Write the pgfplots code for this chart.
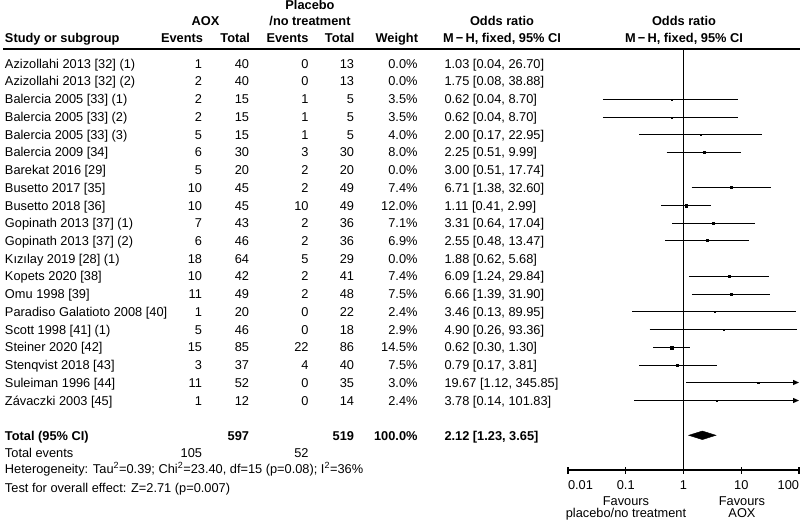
\documentclass[border=0pt]{standalone}
\usepackage{pgfplots}
\pgfplotsset{compat=1.18}
\usepackage{fontspec}
\setmainfont{Liberation Sans}
\usetikzlibrary{arrows.meta}

% text row: baseline(image y), name, e1, t1, e2, t2, weight, OR text
\newcommand{\rowtxt}[8]{%
  \node[anchor=base west] at (5,523-#1) {#2};
  \node[anchor=base east] at (202,523-#1) {#3};
  \node[anchor=base east] at (249,523-#1) {#4};
  \node[anchor=base east] at (308.5,523-#1) {#5};
  \node[anchor=base east] at (354,523-#1) {#6};
  \node[anchor=base east] at (417.5,523-#1) {#7};
  \node[anchor=base west] at (444.5,523-#1) {#8};
}

\begin{document}
\fontsize{12.8pt}{15pt}\selectfont
\begin{tikzpicture}[every node/.style={inner sep=0pt,outer sep=0pt,font=\fontsize{12.8pt}{15pt}\selectfont}]
\begin{scope}[x=1pt,y=1pt]

% ---------- headers ----------
\node[anchor=base] at (310,523-10) {\bfseries Placebo};
\node[anchor=base] at (205.5,523-26) {\bfseries AOX};
\node[anchor=base] at (310,523-26) {\bfseries /no treatment};
\node[anchor=base] at (502,523-26) {\bfseries Odds ratio};
\node[anchor=base] at (684,523-26) {\bfseries Odds ratio};
\node[anchor=base west] at (5,523-42.7) {\bfseries Study or subgroup};
\node[anchor=base east] at (203,523-42.7) {\bfseries Events};
\node[anchor=base east] at (250,523-42.7) {\bfseries Total};
\node[anchor=base east] at (308.5,523-42.7) {\bfseries Events};
\node[anchor=base east] at (354.5,523-42.7) {\bfseries Total};
\node[anchor=base east] at (418,523-42.7) {\bfseries Weight};
\node[anchor=base] at (502,523-42.7) {\bfseries M\,−\,H, fixed, 95\% CI};
\node[anchor=base] at (684,523-42.7) {\bfseries M\,−\,H, fixed, 95\% CI};
\draw[line width=1.5pt] (3,474) -- (800,474);

% ---------- study rows ----------
\rowtxt{68.3}{Azizollahi 2013 [32] (1)}{1}{40}{0}{13}{0.0\%}{1.03 [0.04, 26.70]}
\rowtxt{86.0}{Azizollahi 2013 [32] (2)}{2}{40}{0}{13}{0.0\%}{1.75 [0.08, 38.88]}
\rowtxt{103.7}{Balercia 2005 [33] (1)}{2}{15}{1}{5}{3.5\%}{0.62 [0.04, 8.70]}
\rowtxt{121.5}{Balercia 2005 [33] (2)}{2}{15}{1}{5}{3.5\%}{0.62 [0.04, 8.70]}
\rowtxt{139.2}{Balercia 2005 [33] (3)}{5}{15}{1}{5}{4.0\%}{2.00 [0.17, 22.95]}
\rowtxt{156.9}{Balercia 2009 [34]}{6}{30}{3}{30}{8.0\%}{2.25 [0.51, 9.99]}
\rowtxt{174.6}{Barekat 2016 [29]}{5}{20}{2}{20}{0.0\%}{3.00 [0.51, 17.74]}
\rowtxt{192.3}{Busetto 2017 [35]}{10}{45}{2}{49}{7.4\%}{6.71 [1.38, 32.60]}
\rowtxt{210.1}{Busetto 2018 [36]}{10}{45}{10}{49}{12.0\%}{1.11 [0.41, 2.99]}
\rowtxt{227.8}{Gopinath 2013 [37] (1)}{7}{43}{2}{36}{7.1\%}{3.31 [0.64, 17.04]}
\rowtxt{245.5}{Gopinath 2013 [37] (2)}{6}{46}{2}{36}{6.9\%}{2.55 [0.48, 13.47]}
\rowtxt{263.2}{Kızılay 2019 [28] (1)}{18}{64}{5}{29}{0.0\%}{1.88 [0.62, 5.68]}
\rowtxt{280.9}{Kopets 2020 [38]}{10}{42}{2}{41}{7.4\%}{6.09 [1.24, 29.84]}
\rowtxt{298.7}{Omu 1998 [39]}{11}{49}{2}{48}{7.5\%}{6.66 [1.39, 31.90]}
\rowtxt{316.4}{Paradiso Galatioto 2008 [40]}{1}{20}{0}{22}{2.4\%}{3.46 [0.13, 89.95]}
\rowtxt{334.1}{Scott 1998 [41] (1)}{5}{46}{0}{18}{2.9\%}{4.90 [0.26, 93.36]}
\rowtxt{351.8}{Steiner 2020 [42]}{15}{85}{22}{86}{14.5\%}{0.62 [0.30, 1.30]}
\rowtxt{369.5}{Stenqvist 2018 [43]}{3}{37}{4}{40}{7.5\%}{0.79 [0.17, 3.81]}
\rowtxt{387.3}{Suleiman 1996 [44]}{11}{52}{0}{35}{3.0\%}{19.67 [1.12, 345.85]}
\rowtxt{405.0}{Závaczki 2003 [45]}{1}{12}{0}{14}{2.4\%}{3.78 [0.14, 101.83]}

% ---------- totals ----------
\node[anchor=base west] at (5,523-440.7) {\bfseries Total (95\% CI)};
\node[anchor=base east] at (249,523-440.7) {\bfseries 597};
\node[anchor=base east] at (354,523-440.7) {\bfseries 519};
\node[anchor=base east] at (417.5,523-440.7) {\bfseries 100.0\%};
\node[anchor=base west] at (444.5,523-440.7) {\bfseries 2.12 [1.23, 3.65]};
\node[anchor=base west] at (5,523-457.3) {Total events};
\node[anchor=base east] at (202,523-457.3) {105};
\node[anchor=base east] at (308.5,523-457.3) {52};
\node[anchor=base west] at (5,523-473.3) {Heterogeneity: Tau\textsuperscript{2}=0.39; Chi\textsuperscript{2}=23.40, df=15 (p=0.08); I\textsuperscript{2}=36\%};
\node[anchor=base west] at (5,523-492.7) {Test for overall effect: Z=2.71 (p=0.007)};

% ---------- footer labels ----------
\node[anchor=base] at (626,523-505) {Favours};
\node[anchor=base] at (626,523-517.5) {placebo/no treatment};
\node[anchor=base] at (742,523-505) {Favours};
\node[anchor=base] at (742,523-517.5) {AOX};
\end{scope}

% ---------- forest plot ----------
\begin{axis}[at={(568pt,53pt)}, anchor=south west, scale only axis,
  width=231pt, height=420pt,
  xmode=log, log basis x=10, xmin=0.01, xmax=100, ymin=53, ymax=473,
  axis x line*=bottom, axis y line=none,
  xtick={0.01,0.1,1,10,100},
  xticklabels={\makebox[0pt][l]{0.01},0.1,1,10,\makebox[0pt][r]{100}},
  xminorticks=false, tick align=center, major tick length=7pt,
  x axis line style={line width=1.2pt},
  every tick/.style={black, line width=1.2pt},
  xticklabel style={anchor=base, yshift=-15.5pt, inner sep=0pt, font=\fontsize{12.8pt}{15pt}\selectfont},
  clip=false,
  ci/.style={black, line width=1.2pt, no markers},
  sq/.style={only marks, mark=square*, black, mark options={solid}},
  arr/.style={-{Triangle[length=6pt,width=5pt]}}]
\addplot[black, line width=1.2pt, no markers] coordinates {(1,53) (1,473)};
% CI lines
\addplot[ci] coordinates {(0.04,423.5) (8.70,423.5)};
\addplot[ci] coordinates {(0.04,405.5) (8.70,405.5)};
\addplot[ci] coordinates {(0.17,388.5) (22.95,388.5)};
\addplot[ci] coordinates {(0.51,370.5) (9.99,370.5)};
\addplot[ci] coordinates {(1.38,335.5) (32.60,335.5)};
\addplot[ci] coordinates {(0.41,317.5) (2.99,317.5)};
\addplot[ci] coordinates {(0.64,299.5) (17.04,299.5)};
\addplot[ci] coordinates {(0.48,282.5) (13.47,282.5)};
\addplot[ci] coordinates {(1.24,246.5) (29.84,246.5)};
\addplot[ci] coordinates {(1.39,228.5) (31.90,228.5)};
\addplot[ci] coordinates {(0.13,211.5) (89.95,211.5)};
\addplot[ci] coordinates {(0.26,193.5) (93.36,193.5)};
\addplot[ci] coordinates {(0.30,175.5) (1.30,175.5)};
\addplot[ci] coordinates {(0.17,157.5) (3.81,157.5)};
\addplot[ci, arr] coordinates {(1.12,140.5) (100,140.5)};
\addplot[ci, arr] coordinates {(0.14,122.5) (100,122.5)};
% point estimates
\addplot[sq, mark size=0.7] coordinates {(0.62,423.5)};
\addplot[sq, mark size=0.7] coordinates {(0.62,405.5)};
\addplot[sq, mark size=0.75] coordinates {(2.00,388.5)};
\addplot[sq, mark size=0.95] coordinates {(2.25,370.5)};
\addplot[sq, mark size=0.95] coordinates {(6.71,335.5)};
\addplot[sq, mark size=1.25] coordinates {(1.11,317.5)};
\addplot[sq, mark size=0.95] coordinates {(3.31,299.5)};
\addplot[sq, mark size=0.9] coordinates {(2.55,282.5)};
\addplot[sq, mark size=0.95] coordinates {(6.09,246.5)};
\addplot[sq, mark size=0.95] coordinates {(6.66,228.5)};
\addplot[sq, mark size=0.6] coordinates {(3.46,211.5)};
\addplot[sq, mark size=0.65] coordinates {(4.90,193.5)};
\addplot[sq, mark size=1.45] coordinates {(0.62,175.5)};
\addplot[sq, mark size=0.95] coordinates {(0.79,157.5)};
\addplot[sq, mark size=0.65] coordinates {(19.67,140.5)};
\addplot[sq, mark size=0.6] coordinates {(3.78,122.5)};
% pooled diamond
\addplot[fill=black, draw=black, no markers] coordinates {(1.23,87.7) (2.12,92.0) (3.65,87.7) (2.12,83.4)} -- cycle;
\end{axis}
\pgfresetboundingbox
\path[use as bounding box] (0pt,0pt) rectangle (800pt,523pt);
\end{tikzpicture}
\end{document}
